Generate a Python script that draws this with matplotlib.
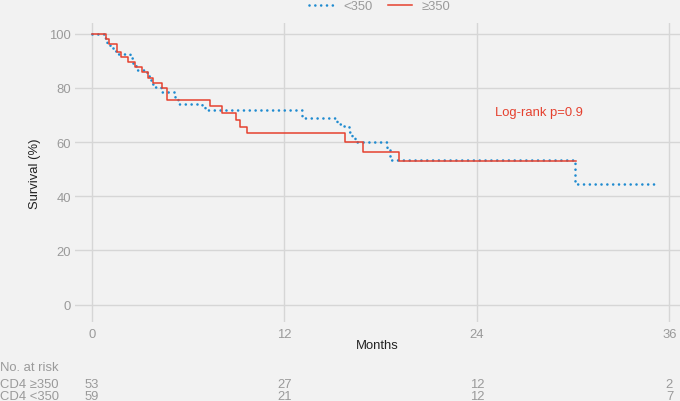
import matplotlib.pyplot as plt
import matplotlib.transforms as mtransforms
from matplotlib.lines import Line2D

plt.rcParams['font.family'] = ['Liberation Sans', 'DejaVu Sans']

# Kaplan-Meier steps (months, survival %)
low_t = [0, 0.8, 0.95, 1.15, 1.4, 1.65, 2.35, 2.55, 2.75, 3.45, 3.6, 3.75, 3.9,
         4.3, 5.2, 5.35, 6.85, 7.05, 13.1, 15.3, 15.5, 16.0, 16.2, 16.4, 18.4,
         18.6, 30.1, 35.2]
low_s = [100, 98.3, 96.6, 94.9, 93.8, 92.6, 90.9, 88.9, 86.5, 84.5, 82.8, 81.5,
         80.4, 78.5, 76.3, 74.1, 72.9, 71.7, 69.1, 66.7, 65.8, 63.9, 61.7, 60.2,
         57.0, 53.5, 44.5, 44.5]

high_t = [0, 0.85, 1.05, 1.58, 1.79, 2.27, 2.68, 3.1, 3.5, 3.8, 4.36, 4.66, 7.38,
          8.08, 8.95, 9.2, 9.66, 15.77, 16.91, 19.16, 30.2]
high_s = [100, 98.1, 96.2, 93.2, 91.4, 89.6, 87.7, 85.9, 83.8, 82.0, 80.0, 75.4,
          73.2, 70.7, 68.3, 65.7, 63.3, 59.9, 56.5, 53.2, 53.2]

risk_times = [0, 12, 24, 36]
risk_high = [53, 27, 12, 2]
risk_low = [59, 21, 12, 7]

blue = '#1f8bd0'
red = '#e5412f'
bg = '#f2f2f2'
grid = '#d6d6d6'
grey = '#9a9a9a'
fs = 9.4

fig = plt.figure(figsize=(6.8, 4.02), dpi=100, facecolor=bg)
ax = fig.add_axes([75 / 680, 1 - 323 / 402, 605 / 680, 299 / 402])
ax.set_facecolor(bg)

ax.step(low_t, low_s, where='post', color=blue, lw=1.9,
        linestyle=(0, (0.01, 2.2)), dash_capstyle='round')
ax.step(high_t, high_s, where='post', color=red, lw=1.1)

ax.set_xlim(-1.06, 36.66)
ax.set_ylim(-6.4, 104)
ax.set_xticks(risk_times)
ax.set_yticks([0, 20, 40, 60, 80, 100])
ax.grid(True, color=grid, lw=1)
ax.set_axisbelow(True)
for s in ax.spines.values():
    s.set_visible(False)
ax.tick_params(length=0, labelsize=fs, labelcolor=grey)
ax.tick_params(axis='x', pad=4)
ax.tick_params(axis='y', pad=3)

ax.set_xlabel('Months', fontsize=fs, color='#222222')
ax.xaxis.label.set_va('center')
ax.xaxis.set_label_coords(0.5, (323 - 346) / 299)
ax.set_ylabel('Survival (%)', fontsize=fs, color='#222222')
ax.yaxis.label.set_va('center')
ax.yaxis.set_label_coords((35 - 75) / 605, 0.5)

ax.text(25.1, 71, 'Log-rank p=0.9', color=red, fontsize=fs, va='center', ha='left')

handles = [Line2D([], [], color=blue, lw=1.9, linestyle=(0, (0.01, 2.2)),
                  dash_capstyle='round'),
           Line2D([], [], color=red, lw=1.1)]
fig.legend(handles, ['<350', '\u2265350'], loc='center', ncol=2,
           bbox_to_anchor=(380 / 680, 1 - 7 / 402), frameon=False, fontsize=fs,
           labelcolor=grey, handlelength=1.85, columnspacing=1.2, handletextpad=0.75)

# number at risk table
tr = mtransforms.blended_transform_factory(ax.transData, fig.transFigure)
fig.text(0, 1 - 368 / 402, 'No. at risk', fontsize=fs, color=grey, va='center')
fig.text(0, 1 - 385 / 402, 'CD4 \u2265350', fontsize=fs, color=grey, va='center')
fig.text(0, 1 - 397 / 402, 'CD4 <350', fontsize=fs, color=grey, va='center')
for t, a, b in zip(risk_times, risk_high, risk_low):
    ax.text(t, 1 - 385 / 402, str(a), transform=tr, fontsize=fs, color=grey,
            ha='center', va='center', clip_on=False)
    ax.text(t, 1 - 397 / 402, str(b), transform=tr, fontsize=fs, color=grey,
            ha='center', va='center', clip_on=False)

fig.savefig('out.png', dpi=100, facecolor=bg)
